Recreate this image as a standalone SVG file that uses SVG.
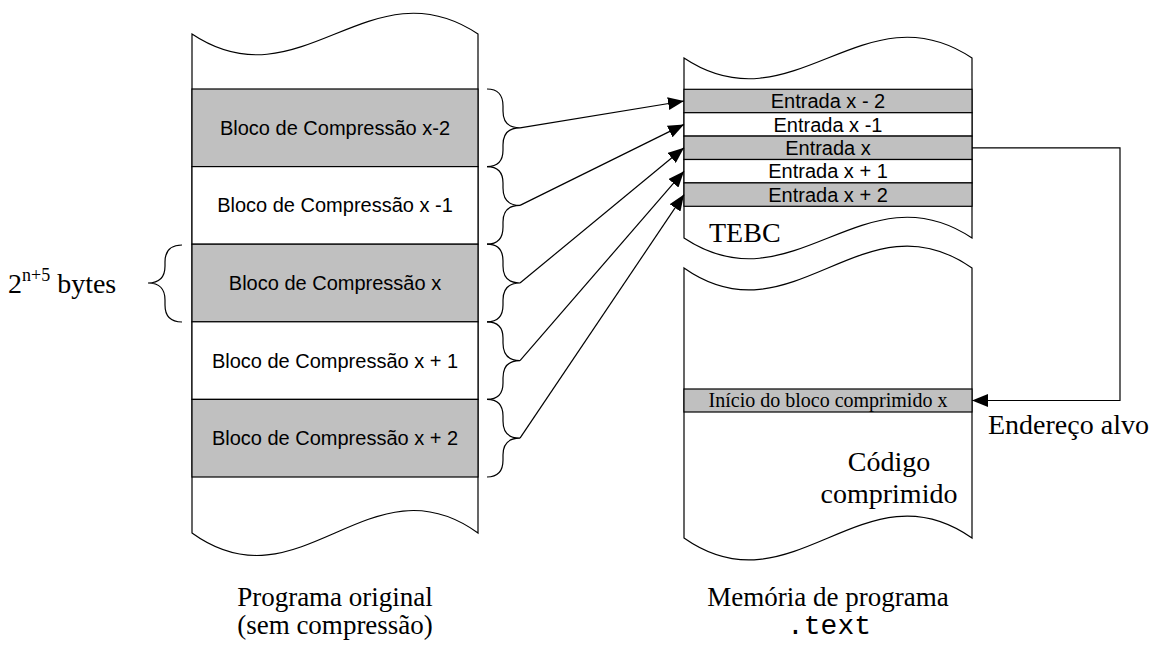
<svg xmlns="http://www.w3.org/2000/svg" width="1166" height="646" viewBox="0 0 1166 646">
<style>
.shape{fill:#fff;stroke:#000;stroke-width:1.2}
.g{fill:#c0c0c0;stroke:#000;stroke-width:1.2}
.w{fill:#fff;stroke:#000;stroke-width:1.2}
.ln{fill:none;stroke:#000;stroke-width:1.2}
.ar{fill:none;stroke:#000;stroke-width:1.2;marker-end:url(#ah)}
.sans{font-family:"Liberation Sans",Arial,sans-serif;fill:#000;text-anchor:middle}
.serif{font-family:"Liberation Serif","Times New Roman",serif;fill:#000}
.mono{font-family:"Liberation Mono","Courier New",monospace;fill:#000}
</style>
<defs>
<marker id="ah" markerUnits="userSpaceOnUse" markerWidth="17" markerHeight="13" refX="16" refY="6.5" orient="auto">
<path d="M0,0 L16,6.5 L0,13 Z" fill="#000"/>
</marker>
</defs>
<rect width="1166" height="646" fill="#fff"/>

<g id="programa-original">
<path class="shape" d="M192,34 C300,106 370,-38 478,34 L478,533 C370,455 300,611 192,533 Z"/>
<rect class="g" x="192" y="89" width="286" height="77.6"/>
<rect class="w" x="192" y="166.6" width="286" height="77.6"/>
<rect class="g" x="192" y="244.2" width="286" height="77.6"/>
<rect class="w" x="192" y="321.8" width="286" height="77.6"/>
<rect class="g" x="192" y="399.4" width="286" height="77.6"/>
<text class="sans" x="335" y="134.8" font-size="20">Bloco de Compressão x-2</text>
<text class="sans" x="335" y="212.4" font-size="20">Bloco de Compressão x -1</text>
<text class="sans" x="335" y="290" font-size="20">Bloco de Compressão x</text>
<text class="sans" x="335" y="367.6" font-size="20">Bloco de Compressão x + 1</text>
<text class="sans" x="335" y="445.2" font-size="20">Bloco de Compressão x + 2</text>
<text class="serif" x="335" y="606" font-size="27" text-anchor="middle">Programa original</text>
<text class="serif" x="335" y="634" font-size="27" text-anchor="middle">(sem compressão)</text>
</g>

<g id="tamanho-bloco">
<path class="ln" d="M182,245 Q165,245 165,262 L165,266 Q165,283 148,283 Q165,283 165,300 L165,305 Q165,322 182,322"/>
<text class="serif" x="8" y="293" font-size="28">2<tspan font-size="18" dy="-12">n+5</tspan><tspan dy="12"> bytes</tspan></text>
</g>

<g id="tebc">
<path class="shape" d="M684,58 C792,130 864,-14 972,58 L972,238 C864,166 792,310 684,238 Z"/>
<rect class="g" x="684" y="89.3" width="288" height="23.4"/>
<rect class="w" x="684" y="112.7" width="288" height="23.4"/>
<rect class="g" x="684" y="136.1" width="288" height="23.4"/>
<rect class="w" x="684" y="159.5" width="288" height="23.4"/>
<rect class="g" x="684" y="182.9" width="288" height="23.4"/>
<text class="sans" x="828" y="108.2" font-size="20">Entrada x - 2</text>
<text class="sans" x="828" y="131.6" font-size="20">Entrada x -1</text>
<text class="sans" x="828" y="155" font-size="20">Entrada x</text>
<text class="sans" x="828" y="178.4" font-size="20">Entrada x + 1</text>
<text class="sans" x="828" y="201.8" font-size="20">Entrada x + 2</text>
<text class="serif" x="709" y="242" font-size="28">TEBC</text>
</g>

<g id="codigo-comprimido">
<path class="shape" d="M684,268 C792,344 864,192 972,268 L972,538 C864,462 792,614 684,538 Z"/>
<rect class="g" x="684" y="389" width="288" height="23"/>
<text class="serif" x="828" y="407" font-size="20" text-anchor="middle">Início do bloco comprimido x</text>
<text class="serif" x="889" y="471" font-size="28" text-anchor="middle">Código</text>
<text class="serif" x="889" y="503" font-size="28" text-anchor="middle">comprimido</text>
<text class="serif" x="828" y="606" font-size="27" text-anchor="middle">Memória de programa</text>
<text class="mono" x="829" y="634" font-size="28" text-anchor="middle">.text</text>
</g>

<g id="endereco-alvo">
<text class="serif" x="988" y="434" font-size="28">Endereço alvo</text>
</g>

<g id="connectors">
<path class="ln" d="M487,89 Q503,89 503,106 L503,111 Q503,127.8 520,127.8 Q503,127.8 503,145 L503,150 Q503,166.6 487,166.6"/>
<path class="ln" d="M487,166.6 Q503,166.6 503,183 L503,188 Q503,205.4 520,205.4 Q503,205.4 503,222 L503,227 Q503,244.2 487,244.2"/>
<path class="ln" d="M487,244.2 Q503,244.2 503,261 L503,266 Q503,283 520,283 Q503,283 503,300 L503,305 Q503,321.8 487,321.8"/>
<path class="ln" d="M487,321.8 Q503,321.8 503,338 L503,343 Q503,360.6 520,360.6 Q503,360.6 503,378 L503,383 Q503,399.4 487,399.4"/>
<path class="ln" d="M487,399.4 Q503,399.4 503,416 L503,421 Q503,438.2 520,438.2 Q503,438.2 503,455 L503,460 Q503,477 487,477"/>
<line class="ar" x1="520" y1="127.8" x2="684" y2="101"/>
<line class="ar" x1="520" y1="205.4" x2="684" y2="124.4"/>
<line class="ar" x1="520" y1="283" x2="684" y2="147.8"/>
<line class="ar" x1="520" y1="360.6" x2="684" y2="171.2"/>
<line class="ar" x1="520" y1="438.2" x2="684" y2="194.6"/>
<path class="ar" d="M972,147.8 L1120,147.8 L1120,400.5 L972,400.5"/>
</g>
</svg>
